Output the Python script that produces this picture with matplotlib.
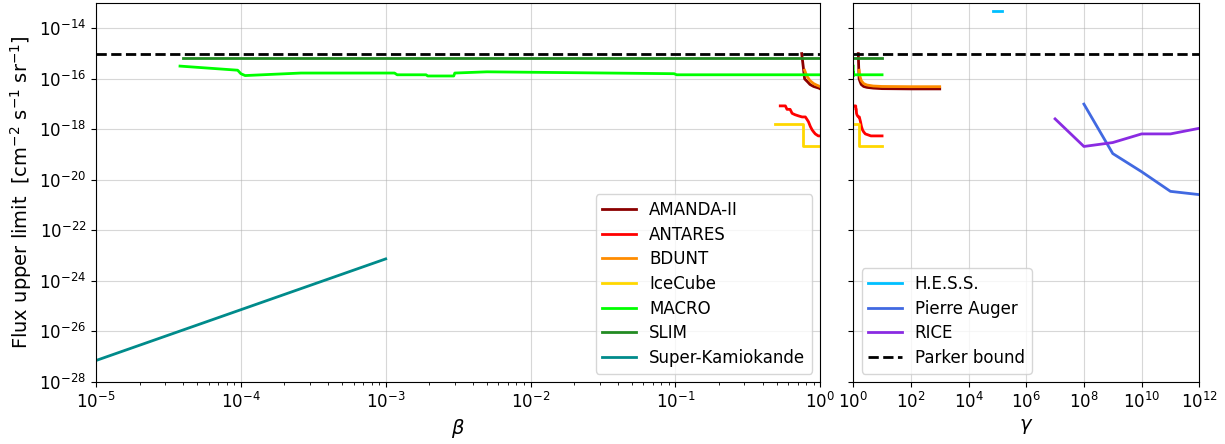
import numpy as np
import matplotlib.pyplot as plt

# Monopole flux upper limits vs. velocity (beta) and Lorentz factor (gamma)

parker_bound = 1e-15

# AMANDA-II and BDUNT are given in gamma, beta follows from gamma
amanda_gamma = np.array([1.5, 1.55, 1.6, 1.75, 1.9, 2.3, 3, 5, 10, 100, 1000])
amanda_flux = np.array([1e-15, 3e-16, 1.0e-16, 7.5e-17, 6e-17, 5e-17, 4.6e-17, 4.3e-17, 4.1e-17, 4.0e-17, 4.0e-17])

bdunt_gamma = np.array([1.6, 1.7, 1.9, 2.3, 3, 5, 10, 100, 1000])
bdunt_flux = np.array([2.2e-16, 1.3e-16, 8.5e-17, 6.5e-17, 5.7e-17, 5.2e-17, 5.0e-17, 4.9e-17, 4.9e-17])

# the slower experiments are given in beta
antares_beta = np.array([0.53, 0.575, 0.59, 0.62, 0.64, 0.67, 0.71, 0.75, 0.79,
                         0.81, 0.83, 0.855, 0.88, 0.9, 0.925, 0.97, 0.995])
antares_flux = np.array([8.5e-18, 8.5e-18, 6.2e-18, 6.2e-18, 4.3e-18, 3.8e-18, 3.4e-18, 3.1e-18, 3.1e-18,
                         2.5e-18, 2.0e-18, 1.3e-18, 9.5e-19, 8e-19, 6.6e-19, 5.5e-19, 5.5e-19])

icecube_beta = np.array([0.49, 0.76, 0.76, 0.995])
icecube_flux = np.array([1.65e-18, 1.65e-18, 2.1e-19, 2.1e-19])

macro_beta = np.array([3.8e-5, 9.5e-5, 1.0e-4, 1.07e-4, 2.6e-4, 1.15e-3, 1.2e-3, 1.9e-3,
                       1.95e-3, 2.95e-3, 3.0e-3, 5.0e-3, 0.098, 0.102, 0.995])
macro_flux = np.array([3.2e-16, 2.2e-16, 1.6e-16, 1.35e-16, 1.7e-16, 1.7e-16, 1.45e-16, 1.45e-16,
                       1.3e-16, 1.3e-16, 1.7e-16, 1.9e-16, 1.6e-16, 1.45e-16, 1.45e-16])

slim_beta = np.array([4e-5, 0.995])
slim_flux = np.array([7e-16, 7e-16])

superk_beta = np.array([1e-5, 1e-3])
superk_flux = np.array([7e-28, 7.4e-24])

# ultra-relativistic searches, given in gamma
hess_gamma = np.array([7e4, 1.45e5])
hess_flux = np.array([4.8e-14, 4.8e-14])

auger_gamma = np.array([1e8, 1e9, 1e10, 1e11, 1e12])
auger_flux = np.array([1e-17, 1.1e-19, 2.1e-20, 3.5e-21, 2.6e-21])

rice_gamma = np.array([1e7, 1e8, 1e9, 1e10, 1e11, 1e12])
rice_flux = np.array([2.6e-18, 2.1e-19, 3e-19, 6.6e-19, 6.6e-19, 1.1e-18])


def to_beta(g):
    return np.sqrt(1 - 1 / g**2)


def to_gamma(b):
    return 1 / np.sqrt(1 - b**2)


fig, (ax1, ax2) = plt.subplots(1, 2, figsize=(12.25, 4.44), dpi=100, sharey=True,
                               gridspec_kw={'width_ratios': [724, 346]})
plt.subplots_adjust(left=0.0784, right=0.979, bottom=0.14, top=0.993, wspace=0.0617)

lw = 2
# (name, beta, gamma, flux, colour, shown on gamma panel)
datasets = [
    ('AMANDA-II', to_beta(amanda_gamma), amanda_gamma, amanda_flux, 'darkred', True),
    ('ANTARES', antares_beta, to_gamma(antares_beta), antares_flux, 'red', True),
    ('BDUNT', to_beta(bdunt_gamma), bdunt_gamma, bdunt_flux, 'darkorange', True),
    ('IceCube', icecube_beta, to_gamma(icecube_beta), icecube_flux, 'gold', True),
    ('MACRO', macro_beta, to_gamma(macro_beta), macro_flux, 'lime', True),
    ('SLIM', slim_beta, to_gamma(slim_beta), slim_flux, 'forestgreen', True),
    ('Super-Kamiokande', superk_beta, to_gamma(superk_beta), superk_flux, 'darkcyan', False),
]
for name, b, g, f, c, on_gamma in datasets:
    ax1.plot(b, f, color=c, lw=lw, label=name)
    if on_gamma:
        ax2.plot(g, f, color=c, lw=lw)

ax2.plot(hess_gamma, hess_flux, color='deepskyblue', lw=lw, label='H.E.S.S.')
ax2.plot(auger_gamma, auger_flux, color='royalblue', lw=lw, label='Pierre Auger')
ax2.plot(rice_gamma, rice_flux, color='blueviolet', lw=lw, label='RICE')

ax1.axhline(parker_bound, color='black', ls='--', lw=lw)
ax2.axhline(parker_bound, color='black', ls='--', lw=lw, label='Parker bound')

for ax in (ax1, ax2):
    ax.set_xscale('log')
    ax.set_yscale('log')
    ax.grid(True, alpha=0.5)
    ax.tick_params(labelsize=12)

ax1.set_xlim(1e-5, 1)
ax2.set_xlim(1, 1e12)
ax1.set_ylim(1e-28, 1e-13)
ax1.set_yticks([1e-28, 1e-26, 1e-24, 1e-22, 1e-20, 1e-18, 1e-16, 1e-14])
ax2.set_xticks([1e0, 1e2, 1e4, 1e6, 1e8, 1e10, 1e12])

ax1.set_xlabel(r'$\beta$', fontsize=14)
ax2.set_xlabel(r'$\gamma$', fontsize=14)
ax1.set_ylabel(r'Flux upper limit  [cm$^{-2}$ s$^{-1}$ sr$^{-1}$]', fontsize=14)

ax1.legend(loc='lower right', fontsize=12, labelspacing=0.4)
ax2.legend(loc='lower left', fontsize=12, labelspacing=0.4)

plt.savefig('out.png', dpi=100)
